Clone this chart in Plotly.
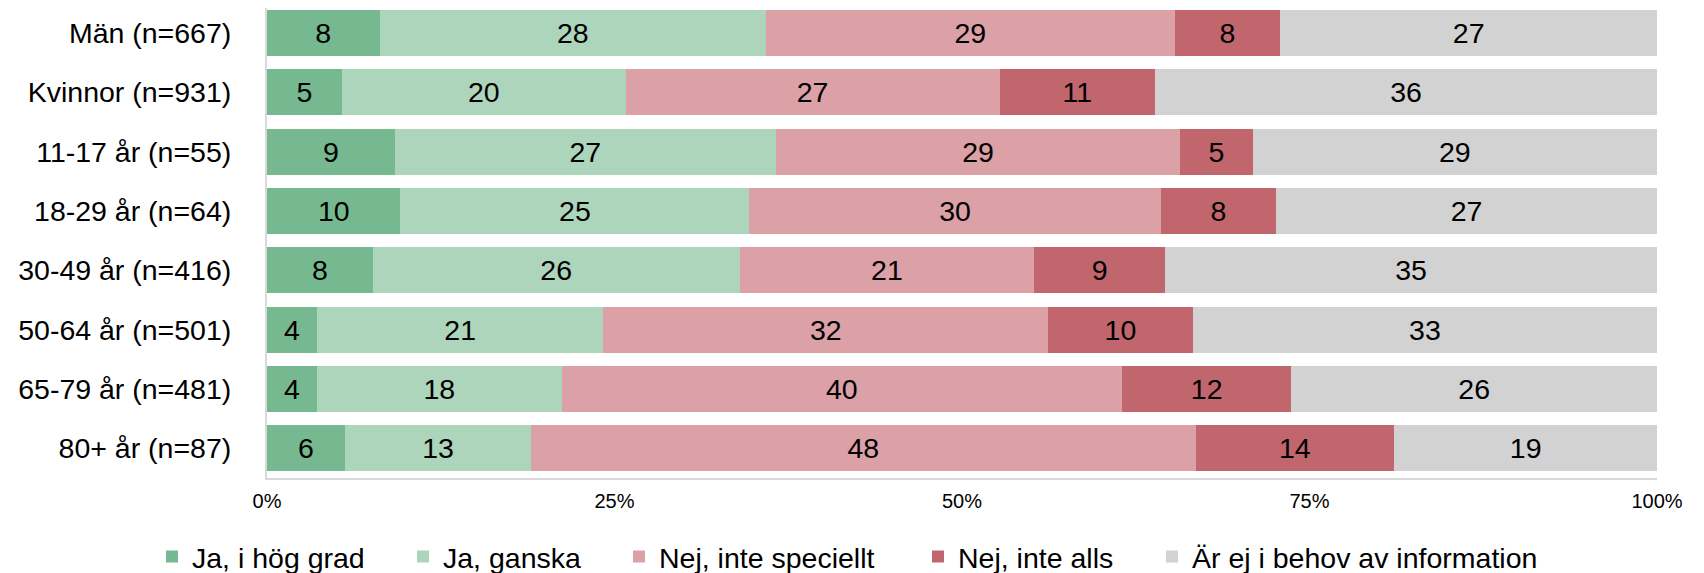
import plotly.graph_objects as go

# Grupper (uppifrån och ned)
grupper = ["Män (n=667)", "Kvinnor (n=931)", "11-17 år (n=55)", "18-29 år (n=64)",
           "30-49 år (n=416)", "50-64 år (n=501)", "65-79 år (n=481)", "80+ år (n=87)"]

# Andelar i procent
ja_hog = [8.1, 5.4, 9.2, 9.6, 7.6, 3.6, 3.6, 5.6]
ja_ganska = [27.8, 20.4, 27.4, 25.1, 26.4, 20.6, 17.6, 13.4]
nej_speciellt = [29.4, 26.9, 29.1, 29.6, 21.2, 32.0, 40.3, 47.8]
nej_alls = [7.6, 11.2, 5.2, 8.3, 9.4, 10.4, 12.2, 14.3]
ej_behov = [27.1, 36.1, 29.1, 27.4, 35.4, 33.4, 26.3, 18.9]

serier = ["Ja, i hög grad", "Ja, ganska", "Nej, inte speciellt", "Nej, inte alls",
          "Är ej i behov av information"]
farger = ["#76B990", "#ADD5BB", "#DBA1A7", "#C1666D", "#D2D2D2"]
varden = [ja_hog, ja_ganska, nej_speciellt, nej_alls, ej_behov]

# sidan har 8 px body-marginal, så figuren görs lite mindre
W, H = 1696, 565

# en legend per serie så att avstånden blir som i förlagan
legend_text_x = [184, 435, 651, 950, 1184]
legend_ids = ["legend2", "legend3", "legend4", "legend5", "legend6"]

fig = go.Figure()
for namn, farg, v, lid in zip(serier, farger, varden, legend_ids):
    fig.add_trace(go.Bar(
        y=grupper, x=v, name=namn, orientation="h", legend=lid,
        marker=dict(color=farg, line=dict(width=0)),
        texttemplate="%{x:.0f}", textposition="inside",
        insidetextanchor="middle",
        textfont=dict(color="black", size=28.5, family="Liberation Sans"),
        hoverinfo="skip",
    ))

leg = {}
for lid, xt in zip(legend_ids, legend_text_x):
    leg[lid] = dict(orientation="h", xref="container", yref="container",
                    x=(xt - 40) / W, xanchor="left", y=1 - 549 / H, yanchor="middle",
                    font=dict(size=28.5), itemclick=False, bgcolor="rgba(0,0,0,0)")

fig.update_layout(
    barmode="stack",
    bargap=0.225,
    width=W, height=H,
    margin=dict(l=259, r=47, t=0, b=95, autoexpand=False),
    plot_bgcolor="white", paper_bgcolor="white",
    font=dict(family="Liberation Sans", color="black"),
    uniformtext=dict(mode="show", minsize=10),
    **leg,
)
fig.update_xaxes(range=[0, 100], tickvals=[0, 25, 50, 75, 100],
                 ticktext=["0%", "25%", "50%", "75%", "100%"],
                 tickfont=dict(size=20), showgrid=False, zeroline=False,
                 showline=True, linecolor="#D9D9D9", linewidth=2, automargin=False,
                 ticks="outside", ticklen=4, tickcolor="rgba(0,0,0,0)")
fig.update_yaxes(range=[7.5, -0.42], tickfont=dict(size=28.5), showgrid=False,
                 showline=True, linecolor="#D9D9D9", linewidth=2, automargin=False,
                 ticks="outside", ticklen=28, tickcolor="rgba(0,0,0,0)")

fig.write_html("out.html")
